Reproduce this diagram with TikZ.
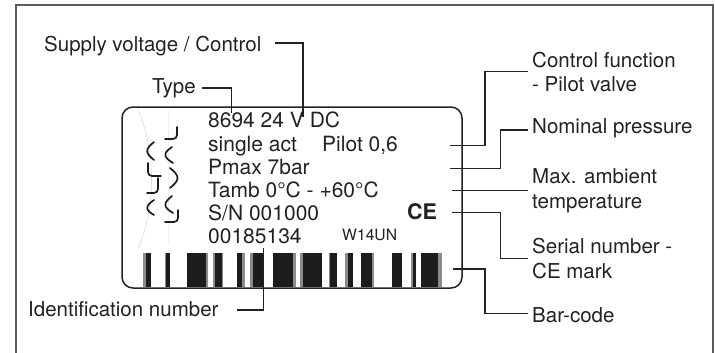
\documentclass[tikz,border=0pt]{standalone}
\usepackage{fontspec}
\setmainfont{TeX Gyre Heros}
\definecolor{txt}{HTML}{222222}
\definecolor{frm}{HTML}{5C5C5C}
\definecolor{barblk}{HTML}{1C1C1C}
\definecolor{bargry}{HTML}{8C8C8C}
\begin{document}
\begin{tikzpicture}[x=1pt,y=-1pt,
  lbl/.style={anchor=base west,inner sep=0pt,font=\fontsize{20.5}{24}\selectfont,text=txt},
  plate/.style={anchor=base west,inner sep=0pt,font=\fontsize{21}{24}\selectfont,text=txt},
  leader/.style={draw=txt,line width=1.4pt},
  squig/.style={draw=barblk,line width=1.7pt,line cap=round},
  framel/.style={draw=frm,line width=1.5pt}]
\useasboundingbox (0,0) rectangle (715,353);
% outer frame
\draw[framel] (16,353) -- (16,5) -- (713,5) -- (713,353);
% plate
\draw[draw=txt,line width=1.5pt,rounded corners=11pt] (122,107) rectangle (462,288);
% faint decorative lines
\draw[gray!30,line width=0.6pt] (138,110) .. controls (156,150) and (156,210) .. (138,248);
\draw[gray!12,line width=0.6pt] (168,110) -- (168,245);
% squiggles
\draw[squig,rounded corners=4pt] (177,127) -- (177,139) -- (165,139);
\draw[squig] (154,142) .. controls (145,149) and (145,153) .. (154,160);
\draw[squig] (172,147) .. controls (163,153) and (163,157) .. (173,163);
\draw[squig,rounded corners=4pt] (148,163) -- (148,176) -- (161,176);
\draw[squig] (170,168) .. controls (180,176) and (180,180) .. (170,188);
\draw[squig,rounded corners=4pt] (158,178) -- (158,193) -- (147,193);
\draw[squig] (154,200) .. controls (145,206) and (145,210) .. (154,215);
\draw[squig] (172,196) .. controls (163,203) and (163,207) .. (173,213);
\draw[squig,rounded corners=4pt] (178,210) -- (178,222) -- (165,222);
% barcode
\foreach \ga/\gb/\ba/\bb in {142.7/151/146/151, 164.5/170/165.5/170, 186.5/208/186.5/206,
  212.7/223/215/221.7, 237/245/237/241.7, 250/264/252.7/263.3, 273/296/273.3/293.3,
  300/322/303.3/321.7, 329/337/330/336.7, 345/353.3/348.3/353.3, 361/374/361/371.7,
  391.7/402/391.7/401.7, 410.7/416/413.3/416, 421/441.7/421/438.3}{
  \fill[bargry] (\ga,253) rectangle (\gb,286.5);
  \fill[barblk] (\ba,253) rectangle (\bb,286.5);
}
% plate texts
\node[plate] (l1) at (208,128) {8694 24 V DC};
\node[plate] (l2) at (208,151) {single act};
\node[plate] (l2b) at (322,151) {Pilot 0,6};
\node[plate] (l3) at (208,174) {Pmax 7bar};
\node[plate] (l4) at (208,197) {Tamb 0°C - +60°C};
\node[plate] (l5) at (208,220) {S/N 001000};
\node[plate] (l6) at (208,243) {00185134};
\node[anchor=base west,inner sep=0pt,font=\fontsize{15.7}{18}\selectfont,text=txt] (w14) at (342,240) {W14UN};
\node[anchor=base west,inner sep=0pt,font=\fontsize{21.5}{24}\selectfont\bfseries,text=txt] (ce) at (407,219.5) {CE};
% left labels
\node[lbl] (supply) at (44,52) {Supply voltage / Control};
\node[lbl] (type) at (152,93) {Type};
\node[lbl] (ident) at (28,316) {Identification number};
% right labels
\node[lbl] (cf1) at (532,67) {Control function};
\node[lbl] (cf2) at (532,92) {- Pilot valve};
\node[lbl] (np) at (532,133) {Nominal pressure};
\node[lbl] (ma1) at (532,183) {Max. ambient};
\node[lbl] (ma2) at (532,208) {temperature};
\node[lbl] (sn1) at (532,253) {Serial number -};
\node[lbl] (sn2) at (532,278) {CE mark};
\node[lbl] (bc) at (532,322) {Bar-code};
% leader end points
\coordinate (typeA) at (202,88);
\coordinate (typeB) at (231.7,113);
\coordinate (supA) at (275,43);
\coordinate (supB) at (303,117);
\coordinate (idA) at (237,310);
\coordinate (idB) at (263.3,248);
\coordinate (cfA) at (450,145.7);
\coordinate (cfB) at (528,71.7);
\coordinate (npA) at (450,168.3);
\coordinate (npB) at (528,130);
\coordinate (maA) at (452,190.7);
\coordinate (maB) at (528,190.7);
\coordinate (snA) at (452,212.7);
\coordinate (snB) at (528,258.3);
\coordinate (bcA) at (453,269);
\coordinate (bcB) at (528,313.3);
% leaders
\draw[leader] (typeA) -| (typeB);
\draw[leader] (supA) -| (supB);
\draw[leader] (idA) -| (idB);
\draw[leader] (cfA) -- (485,145.7) |- (cfB);
\draw[leader] (npA) -- (500.7,168.3) |- (npB);
\draw[leader] (maA) -- (maB);
\draw[leader] (snA) -- (500.3,212.7) |- (snB);
\draw[leader] (bcA) -- (485,269) |- (bcB);
\end{tikzpicture}
\end{document}
